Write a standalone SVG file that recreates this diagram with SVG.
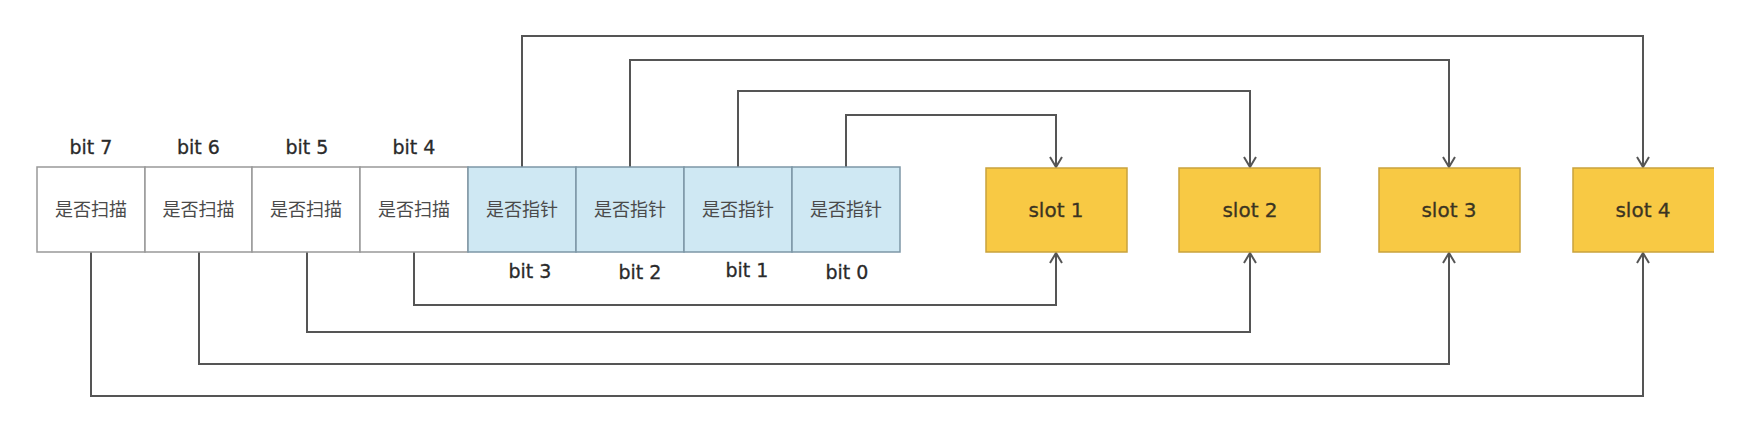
<svg xmlns="http://www.w3.org/2000/svg" width="1764" height="426" viewBox="0 0 1764 426">
<style>
.bg{fill:#ffffff}
.wcell{fill:#ffffff;stroke:#999999;stroke-width:1.5}
.bcell{fill:#cfe8f3;stroke:#7d97a6;stroke-width:1.5}
.slot{fill:#f8c944;stroke:#c9a23c;stroke-width:1.5}
.slotfill{fill:#f8c944}
.slotedge{fill:none;stroke:#c9a23c;stroke-width:1.5}
.cjk{font-family:"Noto Sans CJK SC","Noto Sans CJK JP",sans-serif;font-size:18px;fill:#4a4a4a;text-anchor:middle}
.bit{font-family:"DejaVu Sans","Liberation Sans",sans-serif;font-size:19px;fill:#2a2a2a;text-anchor:middle;stroke:#2a2a2a;stroke-width:0.3}
.slt{font-family:"DejaVu Sans","Liberation Sans",sans-serif;font-size:20px;fill:#3b3422;text-anchor:middle;stroke:#3b3422;stroke-width:0.3}
.conn{fill:none;stroke:#555555;stroke-width:2;marker-end:url(#arr)}
</style>
<defs>
<marker id="arr" viewBox="-11 -7 13 14" refX="0" refY="0" markerWidth="13" markerHeight="14" orient="auto" markerUnits="userSpaceOnUse">
<path d="M-10,-6 L0,0 L-10,6" fill="none" stroke="#555555" stroke-width="2"/>
</marker>
</defs>
<rect class="bg" x="0" y="0" width="1764" height="426"/>

<g id="connectors">
<path class="conn" d="M522,167 V36 H1643 V167"/>
<path class="conn" d="M630,167 V60 H1449 V167"/>
<path class="conn" d="M738,167 V91 H1250 V167"/>
<path class="conn" d="M846,167 V115 H1056 V167"/>
<path class="conn" d="M414,252 V305 H1056 V253"/>
<path class="conn" d="M307,252 V332 H1250 V253"/>
<path class="conn" d="M199,252 V364 H1449 V253"/>
<path class="conn" d="M91,252 V396 H1643 V253"/>
</g>

<g id="bit7"><rect class="wcell" x="37" y="167" width="108" height="85"/><text class="cjk" x="91" y="216">是否扫描</text><text class="bit" x="91" y="154">bit 7</text></g>
<g id="bit6"><rect class="wcell" x="145" y="167" width="107" height="85"/><text class="cjk" x="198.5" y="216">是否扫描</text><text class="bit" x="198.5" y="154">bit 6</text></g>
<g id="bit5"><rect class="wcell" x="252" y="167" width="108" height="85"/><text class="cjk" x="306" y="216">是否扫描</text><text class="bit" x="307" y="154">bit 5</text></g>
<g id="bit4"><rect class="wcell" x="360" y="167" width="108" height="85"/><text class="cjk" x="414" y="216">是否扫描</text><text class="bit" x="414" y="154">bit 4</text></g>
<g id="bit3"><rect class="bcell" x="468" y="167" width="108" height="85"/><text class="cjk" x="522" y="216">是否指针</text><text class="bit" x="530" y="278">bit 3</text></g>
<g id="bit2"><rect class="bcell" x="576" y="167" width="108" height="85"/><text class="cjk" x="630" y="216">是否指针</text><text class="bit" x="640" y="279">bit 2</text></g>
<g id="bit1"><rect class="bcell" x="684" y="167" width="108" height="85"/><text class="cjk" x="738" y="216">是否指针</text><text class="bit" x="747" y="277">bit 1</text></g>
<g id="bit0"><rect class="bcell" x="792" y="167" width="108" height="85"/><text class="cjk" x="846" y="216">是否指针</text><text class="bit" x="847" y="279">bit 0</text></g>

<g id="slot1"><rect class="slot" x="986" y="168" width="141" height="84"/><text class="slt" x="1056" y="217">slot 1</text></g>
<g id="slot2"><rect class="slot" x="1179" y="168" width="141" height="84"/><text class="slt" x="1250" y="217">slot 2</text></g>
<g id="slot3"><rect class="slot" x="1379" y="168" width="141" height="84"/><text class="slt" x="1449" y="217">slot 3</text></g>
<g id="slot4"><rect class="slotfill" x="1573" y="168" width="141" height="84"/><path class="slotedge" d="M1714,168 H1573 V252 H1714"/><text class="slt" x="1643" y="217">slot 4</text></g>
</svg>
